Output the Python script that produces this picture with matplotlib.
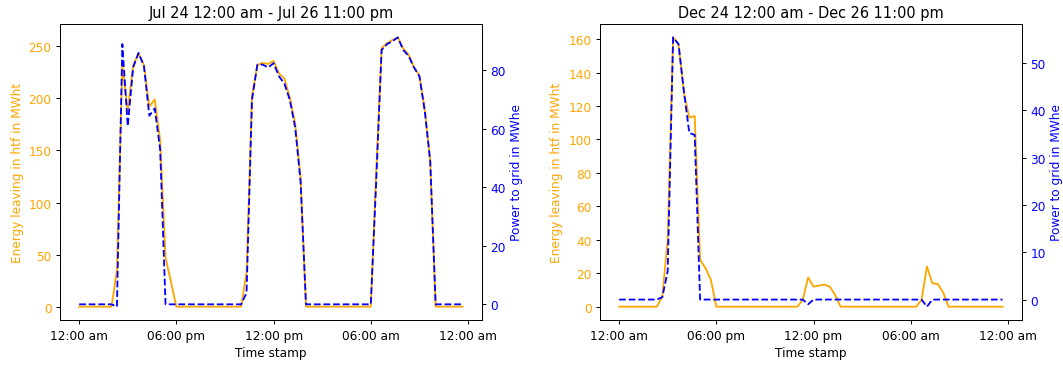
import matplotlib
matplotlib.use('Agg')
import matplotlib.pyplot as plt
import matplotlib.dates as mdates
import numpy as np
import pandas as pd
from matplotlib.ticker import FuncFormatter

# hourly values, 3 days each
jul_htf = [0, 0, 0, 0, 0, 0, 0, 35, 232, 188, 232, 243, 232, 192, 199, 160, 47, 24,
           0, 0, 0, 0, 0, 0, 0, 0, 0, 0, 0, 0, 0, 33, 202, 232, 234, 233, 236, 224,
           219, 201, 176, 124, 0, 0, 0, 0, 0, 0, 0, 0, 0, 0, 0, 0, 0, 130, 248, 253,
           256, 258.5, 248, 242, 230, 222, 189, 140, 0, 0, 0, 0, 0, 0]
jul_grid = [0, 0, 0, 0, 0, 0, 0, -0.8, 89, 61, 81, 86, 81.5, 64.5, 67, 53, 0, 0,
            0, 0, 0, 0, 0, 0, 0, 0, 0, 0, 0, 0, 0, 4, 70, 82, 82, 81, 82.5, 78,
            75.5, 70, 60.5, 42, 0, 0, 0, 0, 0, 0, 0, 0, 0, 0, 0, 0, 0, 42, 87, 89,
            90, 91.3, 87, 85, 81, 78, 66, 49, 0, 0, 0, 0, 0, 0]
dec_htf = [0, 0, 0, 0, 0, 0, 0, 0, 6, 40, 161, 157, 128, 113, 114, 28, 23, 16,
           0, 0, 0, 0, 0, 0, 0, 0, 0, 0, 0, 0, 0, 0, 0, 0, 4, 17.5, 12, 12.6,
           13.2, 12, 7, 0, 0, 0, 0, 0, 0, 0, 0, 0, 0, 0, 0, 0, 0, 0, 4, 24,
           14, 13.5, 8.5, 0, 0, 0, 0, 0, 0, 0, 0, 0, 0, 0]
dec_grid = [0, 0, 0, 0, 0, 0, 0, 0, 0.5, 6, 55.4, 54, 44, 35.2, 34.8, 0, 0, 0,
            0, 0, 0, 0, 0, 0, 0, 0, 0, 0, 0, 0, 0, 0, 0, 0, 0, -1, 0, 0,
            0, 0, 0, 0, 0, 0, 0, 0, 0, 0, 0, 0, 0, 0, 0, 0, 0, 0, 0, -1.5,
            0, 0, 0, 0, 0, 0, 0, 0, 0, 0, 0, 0, 0, 0]

jul_time = pd.date_range('2019-07-24 00:00', periods=72, freq='h')
dec_time = pd.date_range('2019-12-24 00:00', periods=72, freq='h')
titles = ['Jul 24 12:00 am - Jul 26 11:00 pm', 'Dec 24 12:00 am - Dec 26 11:00 pm']

fig, axs = plt.subplots(1, 2, figsize=(1063 / 87, 367 / 87), dpi=87)
plt.subplots_adjust(left=0.0564, right=0.9612, bottom=0.125, top=0.932, wspace=0.28)

fmt = FuncFormatter(lambda x, pos: mdates.num2date(x).strftime('%I:%M %p').lower())

for ax, t, htf, grid, title in zip(axs, [jul_time, dec_time], [jul_htf, dec_htf],
                                   [jul_grid, dec_grid], titles):
    ax.plot(t, htf, color='orange', linewidth=1.5)
    ax.set_ylabel('Energy leaving in htf in MWht', color='orange')
    ax.tick_params(axis='y', labelcolor='orange')
    ax.set_xlabel('Time stamp')
    ax.set_title(title)

    ax2 = ax.twinx()
    ax2.plot(t, grid, color='blue', linestyle='--', linewidth=1.5)
    ax2.set_ylabel('Power to grid in MWhe', color='blue')
    ax2.tick_params(axis='y', labelcolor='blue')

    ticks = pd.date_range(t[0], periods=5, freq='18h')
    ax.set_xticks(mdates.date2num(ticks.to_pydatetime()))
    ax.xaxis.set_major_formatter(fmt)

plt.savefig('out.png', dpi=87)
